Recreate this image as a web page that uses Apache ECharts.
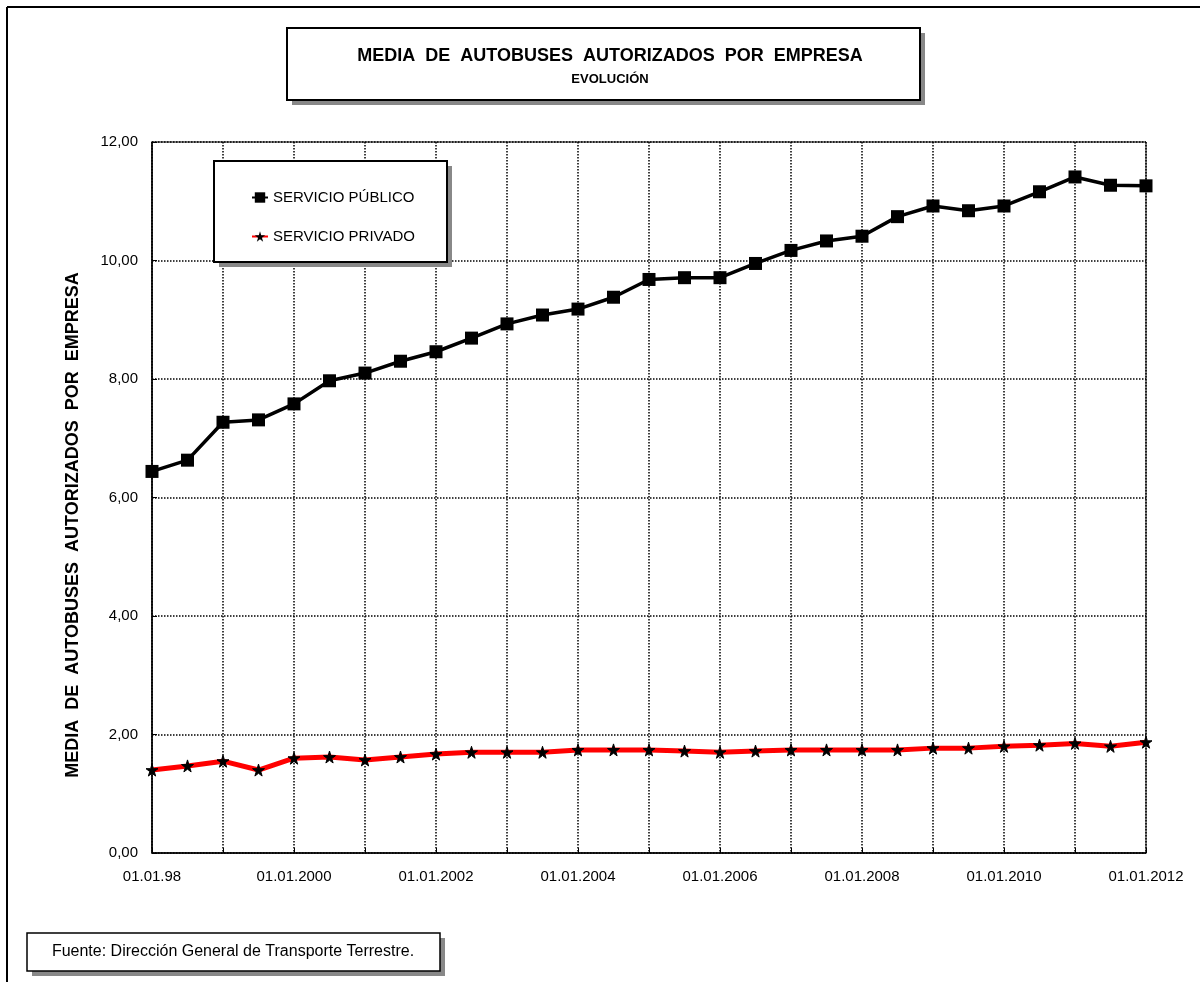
<!DOCTYPE html>
<html>
<head>
<meta charset="utf-8">
<script src="https://cdn.jsdelivr.net/npm/echarts@6/dist/echarts.min.js"></script>
<style>
  html, body { margin: 0; padding: 0; background: #fff; }
  #chart { width: 1200px; height: 982px; }
</style>
</head>
<body>
<div id="chart"></div>
<script>
  // datos semestrales 1998-2012
  var fechas = ['01.01.98', '01.07.98', '01.01.99', '01.07.99',
    '01.01.2000', '01.07.2000', '01.01.2001', '01.07.2001',
    '01.01.2002', '01.07.2002', '01.01.2003', '01.07.2003',
    '01.01.2004', '01.07.2004', '01.01.2005', '01.07.2005',
    '01.01.2006', '01.07.2006', '01.01.2007', '01.07.2007',
    '01.01.2008', '01.07.2008', '01.01.2009', '01.07.2009',
    '01.01.2010', '01.07.2010', '01.01.2011', '01.07.2011',
    '01.01.2012'];
  var publico = [6.44, 6.63, 7.27, 7.31, 7.58, 7.97, 8.10, 8.30, 8.46, 8.69,
    8.93, 9.08, 9.18, 9.38, 9.68, 9.71, 9.71, 9.95, 10.17, 10.33,
    10.41, 10.74, 10.92, 10.84, 10.92, 11.16, 11.41, 11.27, 11.26];
  var privado = [1.40, 1.47, 1.55, 1.40, 1.60, 1.62, 1.57, 1.62, 1.67, 1.70,
    1.70, 1.70, 1.74, 1.74, 1.74, 1.72, 1.70, 1.72, 1.74, 1.74,
    1.74, 1.74, 1.77, 1.77, 1.80, 1.82, 1.85, 1.80, 1.87];
  var yTicks = [0, 2, 4, 6, 8, 10, 12];

  var myChart = echarts.init(document.getElementById('chart'));
  var fuente = 'Liberation Sans, Arial, sans-serif';

  // caja con sombra gris (rect gris desplazado + rect blanco)
  function caja(x, y, w, h, z, lw) {
    return [
      { type: 'rect', z: z, silent: true, shape: { x: x + 5, y: y + 5, width: w, height: h }, style: { fill: '#888' } },
      { type: 'rect', z: z, silent: true, shape: { x: x, y: y, width: w, height: h }, style: { fill: '#fff', stroke: '#000', lineWidth: lw } }
    ];
  }

  var graficos = [
    // marco exterior
    { type: 'line', shape: { x1: 7, y1: 7, x2: 1200, y2: 7 }, style: { stroke: '#000', lineWidth: 2 } },
    { type: 'line', shape: { x1: 7, y1: 7, x2: 7, y2: 982 }, style: { stroke: '#000', lineWidth: 2 } }
  ];
  graficos = graficos.concat(caja(287, 28, 633, 72, 1, 2));
  graficos = graficos.concat(caja(214, 161, 233, 101, 3, 2));
  graficos = graficos.concat(caja(27, 933, 413, 38, 1, 1.5));
  graficos.push({ type: 'text', z: 2,
    style: { x: 233, y: 952, text: 'Fuente: Dirección General de Transporte Terrestre.', fill: '#000',
      font: '16px ' + fuente, textAlign: 'center', textVerticalAlign: 'middle' } });
  // titulo del eje Y
  graficos.push({ type: 'text', z: 2, x: 73, y: 525, rotation: Math.PI / 2,
    style: { x: 0, y: 0, text: 'MEDIA  DE  AUTOBUSES  AUTORIZADOS  POR  EMPRESA', fill: '#000',
      font: 'bold 18px ' + fuente, textAlign: 'center', textVerticalAlign: 'middle' } });

  var option = {
    backgroundColor: '#fff',
    animation: false,
    textStyle: { fontFamily: fuente },
    graphic: graficos,
    title: {
      text: 'MEDIA  DE  AUTOBUSES  AUTORIZADOS  POR  EMPRESA',
      subtext: 'EVOLUCIÓN',
      left: 605,
      top: 42,
      textAlign: 'center',
      itemGap: 8,
      z: 4,
      textStyle: { fontSize: 18, fontWeight: 'bold', color: '#000' },
      subtextStyle: { fontSize: 13, fontWeight: 'bold', color: '#000' }
    },
    legend: {
      orient: 'vertical',
      left: 246,
      top: 185,
      itemGap: 24,
      itemWidth: 16,
      itemHeight: 13,
      z: 10,
      textStyle: { fontSize: 15, color: '#000' },
      data: ['SERVICIO PÚBLICO', 'SERVICIO PRIVADO']
    },
    grid: {
      left: 152,
      right: 54,
      top: 142,
      bottom: 129,
      show: true,
      borderColor: '#000',
      borderWidth: 1,
      backgroundColor: '#fff'
    },
    xAxis: {
      type: 'category',
      data: fechas,
      boundaryGap: false,
      axisLine: { show: true, lineStyle: { color: '#000', width: 1.5 } },
      axisTick: { show: true, inside: true, length: 5, interval: 1, lineStyle: { color: '#000' } },
      axisLabel: { interval: 3, color: '#000', fontSize: 15, margin: 16 },
      splitLine: { show: true, interval: 1, lineStyle: { color: '#000', type: 'dotted', width: 1.5 } }
    },
    yAxis: {
      type: 'value',
      min: 0,
      max: 12,
      interval: 2,
      axisLine: { show: true, lineStyle: { color: '#000', width: 1.5 } },
      axisTick: { show: true, inside: true, length: 5, lineStyle: { color: '#000' } },
      axisLabel: {
        color: '#000', fontSize: 15, margin: 14,
        formatter: function (v) {
          return yTicks.indexOf(v) >= 0 ? v.toFixed(2).replace('.', ',') : '';
        }
      },
      splitLine: { show: true, lineStyle: { color: '#000', type: 'dotted', width: 1.5 } }
    },
    series: [
      {
        name: 'SERVICIO PÚBLICO',
        type: 'line',
        data: publico,
        symbol: 'rect',
        symbolSize: 13,
        z: 5,
        lineStyle: { color: '#000', width: 3.5 },
        itemStyle: { color: '#000' }
      },
      {
        name: 'SERVICIO PRIVADO',
        type: 'line',
        data: privado,
        symbol: 'path://M50,0 L61,35 L98,35 L68,57 L79,91 L50,70 L21,91 L32,57 L2,35 L39,35 Z',
        symbolSize: 12,
        z: 5,
        lineStyle: { color: '#f00', width: 5 },
        itemStyle: { color: '#000', borderColor: '#000' }
      }
    ]
  };

  myChart.setOption(option);
</script>
</body>
</html>
